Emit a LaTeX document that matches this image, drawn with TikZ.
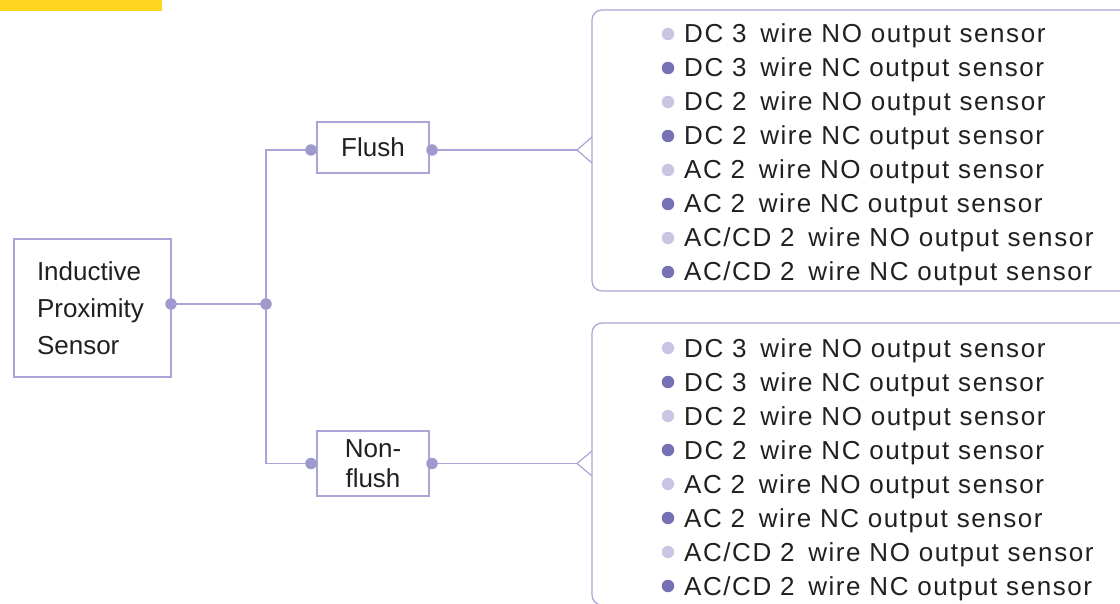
\documentclass[tikz,border=0pt]{standalone}
\usepackage{fontspec}
\setmainfont{Liberation Sans}
\newfontfamily\listfont[LetterSpace=6]{Liberation Sans}
\usetikzlibrary{positioning}
\definecolor{linecol}{HTML}{A9A5D6}
\definecolor{dotcol}{HTML}{9F9ACD}
\definecolor{lightdot}{HTML}{C9C6E3}
\definecolor{darkdot}{HTML}{7671B5}
\definecolor{textcol}{HTML}{231F20}
\definecolor{titlebar}{HTML}{FFD520}
\newcommand*{\gap}{\kern5pt}
\newcommand*{\acdc}{AC/CD}
\tikzstyle{block} = [draw=linecol, line width=1.2pt, rectangle, text=textcol, font=\fontsize{26}{37}\selectfont, inner sep=0pt]
\tikzstyle{joint} = [circle, fill=dotcol, minimum size=11.5pt, inner sep=0pt]
\tikzstyle{bullet} = [circle, minimum size=12.5pt, inner sep=0pt]
\tikzstyle{item} = [anchor=base west, text=textcol, font=\listfont\fontsize{26}{30}\selectfont, inner sep=0pt]
\tikzstyle{link} = [draw=linecol, line width=1.2pt]

\begin{document}
\begin{tikzpicture}[x=1pt, y=-1pt]
    \useasboundingbox (0,0) rectangle (1120,604);
    \fill [titlebar] (0,0) rectangle (162,11);

    \node (sensor) [block, minimum width=157pt, minimum height=138pt, text width=111pt, align=left] at (92.5,308) {Inductive\\Proximity\\Sensor};
    \node (flush) [block, minimum width=112pt, minimum height=51pt] at (373,147.5) {Flush};
    \node (nonflush) [block, minimum width=112pt, minimum height=65pt, align=center, font=\fontsize{26}{30}\selectfont] at (373,463.5) {Non-\\flush};

    \coordinate (sensor out) at (171,304);
    \coordinate (split) at (266,304);
    \coordinate (flush in) at (311,150);
    \coordinate (flush out) at (432,150);
    \coordinate (nonflush in) at (311,463.5);
    \coordinate (nonflush out) at (432,463.5);
    \coordinate (top tip) at (577,150);
    \coordinate (bottom tip) at (577,463.5);

    % Connectors.
    \draw [link] (sensor out) -- (split);
    \draw [link] (flush in) -| (split) |- (nonflush in);
    \draw [link] (flush out) -- (top tip);
    \draw [link] (nonflush out) -- (bottom tip);

    % Brackets round the lists.
    \draw [link] (1130,10) -- (602,10) arc[start angle=90, end angle=180, radius=10pt] -- (592,281) arc[start angle=180, end angle=270, radius=10pt] -- (1130,291);
    \draw [link] (592,137) -- (top tip) -- (592,163);
    \draw [link] (1130,323) -- (602,323) arc[start angle=90, end angle=180, radius=10pt] -- (592,595) arc[start angle=180, end angle=270, radius=10pt] -- (1130,605);
    \draw [link] (592,451) -- (bottom tip) -- (592,476);

    \foreach \p in {sensor out, split, flush in, flush out, nonflush in, nonflush out} {%
        \node (dot \p) [joint] at (\p) {};
    }

    % Sensor lists.
    \foreach \i/\kind/\out/\col in {1/DC 3/NO/lightdot, 2/DC 3/NC/darkdot, 3/DC 2/NO/lightdot, 4/DC 2/NC/darkdot, 5/AC 2/NO/lightdot, 6/AC 2/NC/darkdot, 7/\acdc{} 2/NO/lightdot, 8/\acdc{} 2/NC/darkdot} {%
        \node (top bullet \i) [bullet, fill=\col] at (668,{34*\i}) {};
        \node (top item \i) [item] at (684,{34*\i+9}) {\kind\gap\ wire \out\ output sensor};
        \node (bottom bullet \i) [bullet, fill=\col] at (668,{314+34*\i}) {};
        \node (bottom item \i) [item] at (684,{323+34*\i}) {\kind\gap\ wire \out\ output sensor};
    }
\end{tikzpicture}
\end{document}
